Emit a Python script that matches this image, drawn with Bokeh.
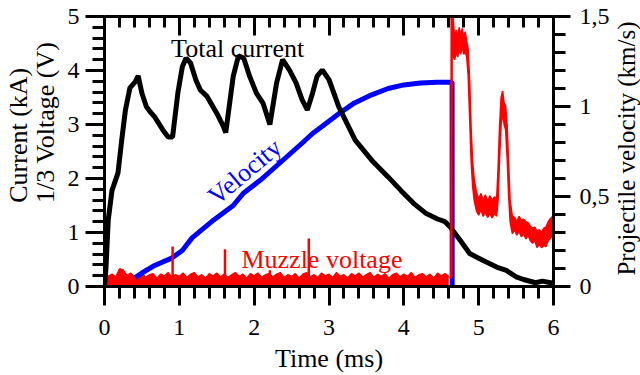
import math
from bokeh.plotting import figure
from bokeh.layouts import row
from bokeh.models import (LinearAxis, Range1d, SingleIntervalTicker, FixedTicker, Label,
                          CustomJSTickFormatter)
from bokeh.embed import file_html
from bokeh.resources import INLINE

# ---------------- data ----------------
# Total current (kA), left axis
cur_t = [0.0, 0.02, 0.05, 0.10, 0.18, 0.23, 0.28, 0.34, 0.41, 0.45, 0.50, 0.56, 0.62, 0.67,
         0.78, 0.85, 0.91, 0.98, 1.04, 1.09, 1.15, 1.22, 1.28, 1.37, 1.50, 1.59, 1.62,
         1.72, 1.79, 1.86, 1.94, 2.03, 2.12, 2.21, 2.30, 2.38, 2.47, 2.56, 2.64, 2.71,
         2.78, 2.84, 2.91, 3.00, 3.13, 3.35, 3.57, 3.79, 3.96, 4.13, 4.30, 4.45, 4.55,
         4.62, 4.75, 4.88, 5.06, 5.24, 5.37, 5.50, 5.60, 5.76, 5.85, 6.00]
cur_kA = [0.0, 0.35, 1.23, 1.78, 2.10, 2.71, 3.27, 3.68, 3.79, 3.90, 3.58, 3.33, 3.22, 3.14,
          2.90, 2.77, 2.77, 3.58, 4.07, 4.23, 4.14, 3.83, 3.64, 3.52, 3.21, 2.96, 2.85,
          3.89, 4.27, 4.23, 3.89, 3.58, 3.39, 3.00, 3.77, 4.20, 4.01, 3.77, 3.46, 3.27,
          3.58, 3.89, 4.01, 3.83, 3.33, 2.71, 2.34, 2.03, 1.78, 1.54, 1.35, 1.25, 1.20,
          1.10, 0.86, 0.61, 0.48, 0.36, 0.30, 0.18, 0.13, 0.07, 0.10, 0.06]

# Projectile velocity (km/s), right axis
vel_t = [0.41, 0.50, 0.67, 0.89, 1.04, 1.17, 1.46, 1.72, 1.86, 2.08, 2.38, 2.65, 2.78,
         2.91, 3.13, 3.34, 3.57, 3.79, 4.00, 4.22, 4.45, 4.645, 4.646]
vel_kms = [0.05, 0.075, 0.117, 0.156, 0.20, 0.27, 0.37, 0.45, 0.52, 0.59, 0.70, 0.80, 0.85,
           0.89, 0.96, 1.02, 1.065, 1.10, 1.12, 1.13, 1.135, 1.135, 0.0]

# Muzzle voltage (1/3 V), left axis: noise band before exit
mv_base_t = [0.00, 0.05, 0.10, 0.15, 0.20, 0.25, 0.30, 0.35, 0.40, 0.45,
             0.50, 0.55, 0.60, 0.65, 0.70, 0.75, 0.80, 0.85, 0.90, 0.95,
             1.00, 1.05, 1.10, 1.15, 1.20, 1.25, 1.30, 1.35, 1.40, 1.45,
             1.50, 1.55, 1.60, 1.65, 1.70, 1.75, 1.80, 1.85, 1.90, 1.95,
             2.00, 2.05, 2.10, 2.15, 2.20, 2.25, 2.30, 2.35, 2.40, 2.45,
             2.50, 2.55, 2.60, 2.65, 2.70, 2.75, 2.80, 2.85, 2.90, 2.95,
             3.00, 3.05, 3.10, 3.15, 3.20, 3.25, 3.30, 3.35, 3.40, 3.45,
             3.50, 3.55, 3.60, 3.65, 3.70, 3.75, 3.80, 3.85, 3.90, 3.95,
             4.00, 4.05, 4.10, 4.15, 4.20, 4.25, 4.30, 4.35, 4.40, 4.45,
             4.50, 4.55, 4.60]
mv_base_hi = [0.27, 0.19, 0.23, 0.18, 0.33, 0.31, 0.21, 0.25, 0.18, 0.23,
              0.26, 0.17, 0.22, 0.24, 0.16, 0.23, 0.20, 0.26, 0.18, 0.22,
              0.19, 0.25, 0.17, 0.23, 0.26, 0.18, 0.22, 0.16, 0.24, 0.20,
              0.25, 0.18, 0.23, 0.17, 0.22, 0.26, 0.19, 0.23, 0.16, 0.24,
              0.20, 0.25, 0.17, 0.22, 0.24, 0.18, 0.23, 0.26, 0.17, 0.22,
              0.19, 0.24, 0.16, 0.23, 0.26, 0.18, 0.22, 0.17, 0.25, 0.20,
              0.23, 0.17, 0.26, 0.19, 0.22, 0.16, 0.24, 0.20, 0.25, 0.18,
              0.22, 0.26, 0.17, 0.23, 0.19, 0.24, 0.16, 0.22, 0.25, 0.18,
              0.23, 0.19, 0.26, 0.17, 0.22, 0.24, 0.18, 0.23, 0.16, 0.25,
              0.20, 0.24, 0.19]
mv_spike_t = [0.91, 1.61, 2.21, 2.73]
mv_spike_v = [0.74, 0.69, 0.30, 0.89]

# Muzzle voltage after projectile exit: rise and noisy band
mv_rise_t = [4.62, 4.635, 4.64]
mv_rise_v = [0.15, 0.20, 5.60]
mv_post_t = [4.645, 4.66, 4.68, 4.70, 4.72, 4.74, 4.76, 4.78, 4.80, 4.82, 4.84, 4.86,
             4.88, 4.90, 4.92, 4.94, 4.97, 5.00, 5.03, 5.06, 5.09, 5.12, 5.15, 5.18,
             5.21, 5.24, 5.26, 5.28, 5.30, 5.32, 5.34, 5.36, 5.38, 5.40, 5.42, 5.45,
             5.48, 5.51, 5.54, 5.57, 5.60, 5.63, 5.66, 5.69, 5.72, 5.75, 5.78, 5.81,
             5.84, 5.87, 5.90, 5.93, 5.96, 5.99]
mv_post_lo = [4.30, 4.25, 4.20, 4.35, 4.25, 4.40, 4.30, 4.45, 4.30, 4.35, 4.25, 3.90,
              3.10, 2.30, 1.85, 1.60, 1.40, 1.32, 1.42, 1.30, 1.38, 1.28, 1.36, 1.27,
              1.35, 1.30, 1.60, 2.40, 3.00, 3.20, 3.00, 2.90, 2.40, 1.70, 1.20, 0.98,
              1.05, 0.95, 1.02, 0.92, 0.98, 0.88, 0.95, 0.85, 0.80, 0.85, 0.72, 0.78,
              0.72, 0.76, 0.74, 0.85, 0.90, 0.95]
mv_post_hi = [5.60, 4.95, 4.60, 4.75, 4.62, 4.80, 4.65, 4.78, 4.60, 4.72, 4.55, 4.40,
              3.80, 2.90, 2.30, 2.00, 1.75, 1.62, 1.72, 1.60, 1.70, 1.58, 1.68, 1.60,
              1.66, 1.62, 2.20, 3.00, 3.50, 3.62, 3.40, 3.35, 3.00, 2.30, 1.60, 1.30,
              1.28, 1.20, 1.30, 1.22, 1.25, 1.20, 1.18, 1.12, 1.08, 1.10, 1.02, 1.05,
              1.00, 1.08, 1.10, 1.20, 1.26, 1.30]

x_ticks_major = 1
y_ticks_major = 1
v_ticks_major = 0.5

FONT = "Liberation Serif"
RED = "#ff0000"
BLUE = "#0000ff"
NB = "\u00a0"

MAIN_W = 612
p = figure(width=MAIN_W, height=375, x_range=Range1d(0, 6), y_range=Range1d(0, 5),
           output_backend="svg", toolbar_location=None,
           x_axis_location=None, y_axis_location=None,
           min_border_left=99, min_border_right=MAIN_W - 556, min_border_top=16,
           min_border_bottom=89)
p.extra_y_ranges = {"vel": Range1d(0, 1.5)}
p.outline_line_color = None
p.xgrid.visible = False
p.ygrid.visible = False
p.background_fill_color = "white"
p.border_fill_color = "white"


def style_axis(ax, mj_in, mj_out, mn_in, mn_out, standoff):
    ax.axis_line_width = 3
    ax.axis_line_color = "black"
    ax.major_tick_line_width = 3
    ax.minor_tick_line_width = 3
    ax.major_tick_in = mj_in
    ax.major_tick_out = mj_out
    ax.minor_tick_in = mn_in
    ax.minor_tick_out = mn_out
    ax.major_label_text_font = FONT
    ax.major_label_text_font_size = "24px"
    ax.major_label_text_color = "black"
    ax.major_label_standoff = standoff
    ax.axis_label_text_font = FONT
    ax.axis_label_text_font_size = "26px"
    ax.axis_label_text_font_style = "normal"
    ax.axis_label_text_color = "black"


xb = LinearAxis(ticker=SingleIntervalTicker(interval=x_ticks_major, num_minor_ticks=5))
style_axis(xb, 0, 19, 0, 12, 14)
xb.axis_label = "Time (ms)"
xb.axis_label_standoff = 6
p.add_layout(xb, "below")

xt = LinearAxis(ticker=SingleIntervalTicker(interval=x_ticks_major, num_minor_ticks=5),
                formatter=CustomJSTickFormatter(code="return ''"))
style_axis(xt, 19, 0, 11, 0, 0)
xt.major_label_text_font_size = "1px"
p.add_layout(xt, "above")

yl = LinearAxis(ticker=SingleIntervalTicker(interval=y_ticks_major, num_minor_ticks=5))
style_axis(yl, 0, 19, 0, 12, 6)
yl.axis_label = NB * 9 + "1/3 Voltage (V)"
yl.axis_label_standoff = 5
p.add_layout(yl, "left")

yl2 = LinearAxis(ticker=FixedTicker(ticks=[]),
                 formatter=CustomJSTickFormatter(code="return ''"))
style_axis(yl2, 0, 0, 0, 0, 0)
yl2.axis_line_color = None
yl2.major_label_text_font_size = "1px"
yl2.axis_label = NB * 5 + "Current (kA)"
yl2.axis_label_standoff = -5
p.add_layout(yl2, "left")

yr = LinearAxis(y_range_name="vel",
                ticker=SingleIntervalTicker(interval=v_ticks_major, num_minor_ticks=5),
                formatter=CustomJSTickFormatter(code="return tick.toString().replace('.', ',')"))
style_axis(yr, 0, 17, 0, 12, 9)
p.add_layout(yr, "right")

# ---- glyphs ----
p.varea(x=mv_base_t, y1=[0] * len(mv_base_t), y2=mv_base_hi, fill_color=RED)
p.line(mv_base_t, mv_base_hi, line_color=RED, line_width=1.2)
p.line(vel_t, vel_kms, y_range_name="vel", line_color=BLUE, line_width=5)
p.segment(x0=mv_spike_t, y0=[0] * len(mv_spike_t), x1=mv_spike_t, y1=mv_spike_v,
          line_color=RED, line_width=2.5)
p.line(cur_t, cur_kA, line_color="black", line_width=5)
p.line(mv_rise_t, mv_rise_v, line_color=RED, line_width=2.5)
p.varea(x=mv_post_t, y1=mv_post_lo, y2=mv_post_hi, fill_color=RED)
p.line(mv_post_t, mv_post_lo, line_color=RED, line_width=1.5)
p.line(mv_post_t, mv_post_hi, line_color=RED, line_width=1.5)

# ---- texts ----
def lab(fig, **kw):
    base = dict(text_font=FONT, text_font_size="26px", text_baseline="alphabetic")
    base.update(kw)
    fig.add_layout(Label(**base))

lab(p, x=0.89, y=4.41, text="Total current", text_align="left", text_color="black")
lab(p, x=1.83, y=0.50, text="Muzzle voltage", text_align="left", text_color=RED)
lab(p, x=1.43, y=1.61, text="Velocity", text_align="left", text_color=BLUE,
    angle=math.radians(40))

# ---- right-hand title strip (its frame is aligned with the main frame) ----
SIDE_W = 640 - MAIN_W
p2 = figure(width=SIDE_W, height=375, x_range=Range1d(0, SIDE_W), y_range=Range1d(0, 270),
            output_backend="svg", toolbar_location=None,
            x_axis_location=None, y_axis_location=None,
            min_border_left=0, min_border_right=0, min_border_top=16, min_border_bottom=89)
p2.outline_line_color = None
p2.xgrid.visible = False
p2.ygrid.visible = False
p2.background_fill_color = "white"
p2.border_fill_color = "white"
lab(p2, x=626 - MAIN_W, y=286 - 148, text="Projectile velocity (km/s)",
    text_align="center", angle=math.pi / 2, text_color="black", text_font_size="25px")

layout = row(p, p2, spacing=0)
open("out.html", "w").write(file_html(layout, INLINE))
